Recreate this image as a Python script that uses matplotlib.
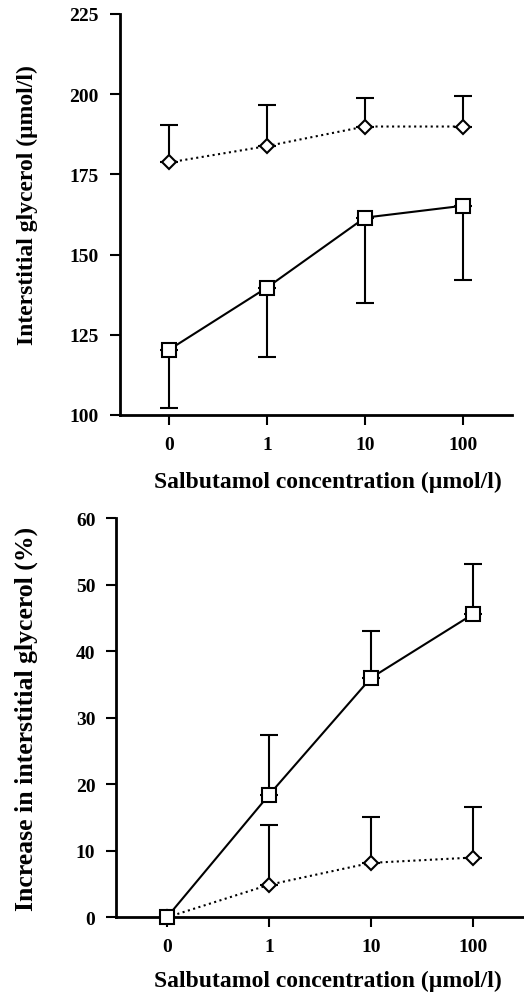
import matplotlib
matplotlib.use("Agg")
import matplotlib.pyplot as plt
import numpy as np

plt.rcParams['font.family'] = ['Liberation Serif', 'DejaVu Serif']
plt.rcParams['font.weight'] = 'bold'

# concentrations (categorical)
conc_labels = ['0', '1', '10', '100']

# top panel: interstitial glycerol (umol/l)
top_diamond = [178.7, 183.8, 189.9, 189.9]
top_diamond_err_up = [11.7, 12.8, 8.8, 9.4]
top_square = [120.3, 139.7, 161.5, 165.2]
top_square_err_down = [18.2, 21.5, 26.5, 23.3]

# bottom panel: increase in interstitial glycerol (%)
bot_square = [0.0, 18.4, 36.0, 45.6]
bot_square_err_up = [0.0, 9.0, 7.1, 7.6]
bot_diamond = [0.0, 4.9, 8.2, 9.0]
bot_diamond_err_up = [0.0, 9.0, 6.9, 7.6]

x = np.arange(len(conc_labels))

fig = plt.figure(figsize=(5.24, 9.95), dpi=100)
ax1 = fig.add_axes([0.229, 0.582, 0.748, 0.403])
ax2 = fig.add_axes([0.221, 0.077, 0.779, 0.401])


def style_axis(ax, ypad):
    for s in ['top', 'right']:
        ax.spines[s].set_visible(False)
    for s in ['left', 'bottom']:
        ax.spines[s].set_linewidth(2.0)
    ax.tick_params(axis='both', direction='out', length=7, width=1.5,
                   labelsize=14)
    ax.tick_params(axis='x', pad=8)
    ax.tick_params(axis='y', pad=ypad)
    ax.set_xticks(x)
    ax.set_xticklabels(conc_labels, fontweight='bold')
    ax.set_xlim(-0.5, 3.5)
    for lab in ax.get_yticklabels():
        lab.set_fontweight('bold')


def draw(ax, y, err, up, ls, marker, ms):
    yerr = [np.zeros(len(err)), err] if up else [err, np.zeros(len(err))]
    e = np.array(err)
    mask = e > 0
    ax.errorbar(x[mask], np.array(y)[mask], yerr=np.array(yerr)[:, mask],
                fmt='none', ecolor='black', elinewidth=1.5, capsize=6.5,
                capthick=1.5, zorder=2)
    ax.plot(x, y, linestyle=ls, color='black', linewidth=1.5, marker=marker,
            markersize=ms, markerfacecolor='white', markeredgecolor='black',
            markeredgewidth=1.5, zorder=3, clip_on=False)


# top panel
draw(ax1, top_diamond, top_diamond_err_up, True, ':', 'D', 7)
draw(ax1, top_square, top_square_err_down, False, '-', 's', 9.5)
ax1.set_ylim(100, 225)
ax1.set_yticks([100, 125, 150, 175, 200, 225])
style_axis(ax1, 8.5)
ax1.set_ylabel('Interstitial glycerol (\u03bcmol/l)', fontsize=17,
               fontweight='bold', va='center')
ax1.yaxis.set_label_coords(-0.237, 0.526)
ax1.set_xlabel('Salbutamol concentration (\u00b5mol/l)', fontsize=17,
               fontweight='bold', va='center')
ax1.xaxis.set_label_coords(0.53, -0.165)

# bottom panel
draw(ax2, bot_diamond, bot_diamond_err_up, True, ':', 'D', 7)
draw(ax2, bot_square, bot_square_err_up, True, '-', 's', 9.5)
ax2.set_ylim(0, 60)
ax2.set_yticks(np.arange(0, 61, 10))
style_axis(ax2, 7.7)
ax2.set_ylabel('Increase in interstitial glycerol (%)', fontsize=18.5,
               fontweight='bold', va='center')
ax2.yaxis.set_label_coords(-0.22, 0.5)
ax2.set_xlabel('Salbutamol concentration (\u00b5mol/l)', fontsize=17,
               fontweight='bold', va='center')
ax2.xaxis.set_label_coords(0.52, -0.157)

fig.savefig('out.png', dpi=100)
